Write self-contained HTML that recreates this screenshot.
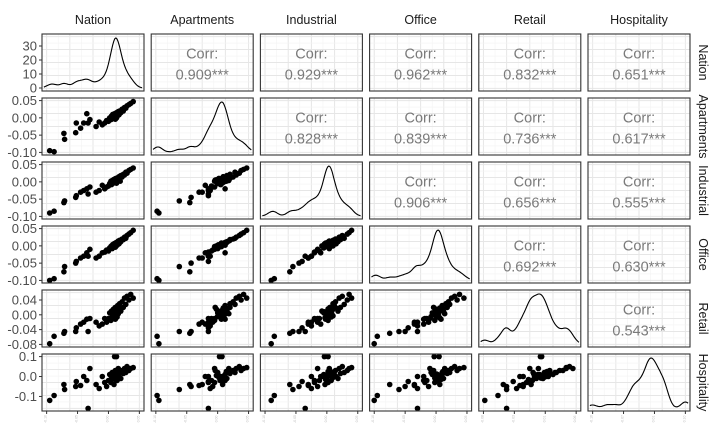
<!DOCTYPE html>
<html><head><meta charset="utf-8"><style>
body{margin:0;background:#fff;font-family:"Liberation Sans",Arial,sans-serif}
svg{display:block}
</style></head><body>
<svg id="chart" width="725" height="432" viewBox="0 0 725 432"></svg>
<script>
const variables=["Nation","Apartments","Industrial","Office","Retail","Hospitality"];
const domains=[[-0.1,0.05],[-0.1,0.05],[-0.1,0.05],[-0.1,0.05],[-0.08,0.06],[-0.16,0.1]];
const yTicks=[[0,10,20,30],[0.05,0,-0.05,-0.1],[0.05,0,-0.05,-0.1],[0.05,0,-0.05,-0.1],[0.04,0,-0.04,-0.08],[0.1,0,-0.1]];
const yTickLabels=[["0","10","20","30"],["0.05","0.00","-0.05","-0.10"],["0.05","0.00","-0.05","-0.10"],["0.05","0.00","-0.05","-0.10"],["0.04","0.00","-0.04","-0.08"],["0.1","0.0","-0.1"]];
const corrValues=[["0.909","0.929","0.962","0.832","0.651"],["0.828","0.839","0.736","0.617"],["0.906","0.656","0.555"],["0.692","0.630"],["0.543"]];
const nation=[-0.095,-0.088,-0.072,-0.071,-0.053,-0.052,-0.045,-0.04,-0.035,-0.033,-0.03,
0.0,0.002,0.004,0.005,0.006,0.007,0.008,0.009,0.01,0.01,0.011,0.011,0.012,0.012,0.013,0.013,0.014,0.015,0.016,0.017,0.018,0.02,0.022,0.024,0.026,0.028,0.03,0.033,0.036,0.04,-0.003,-0.006,-0.01,-0.015,-0.02,0.009,0.011,0.013,0.015,0.019];
const apartments=[-0.095,-0.098,-0.045,-0.062,-0.043,-0.015,-0.03,-0.015,0.012,-0.015,-0.005,
-0.01,0.0,-0.005,0.005,0.0,0.01,-0.002,0.008,0.003,0.012,0.006,-0.004,0.01,0.002,0.015,0.007,0.004,0.012,0.018,0.009,0.02,0.015,0.025,0.02,0.03,0.028,0.035,0.038,0.042,0.047,-0.008,-0.015,-0.02,-0.012,-0.025,0.001,0.006,0.0,0.009,0.014];
const industrial=[-0.09,-0.085,-0.06,-0.055,-0.045,-0.04,-0.03,-0.025,-0.02,-0.035,-0.015,
-0.012,-0.005,0.002,-0.008,0.004,0.0,0.006,-0.003,0.002,0.008,-0.002,0.005,0.0,0.01,0.003,-0.004,0.007,0.012,0.004,0.015,0.01,0.018,0.014,0.022,0.02,0.028,0.025,0.033,0.036,0.04,-0.015,-0.02,-0.01,-0.025,-0.03,0.001,-0.001,0.005,0.009,0.002];
const office=[-0.1,-0.095,-0.075,-0.06,-0.05,-0.045,-0.035,-0.03,-0.02,-0.03,-0.01,
-0.015,-0.006,-0.002,0.0,-0.008,0.004,0.0,0.006,-0.003,0.002,0.008,-0.004,0.004,0.0,0.01,0.005,0.002,0.01,0.014,0.006,0.016,0.012,0.02,0.018,0.025,0.022,0.03,0.034,0.038,0.045,-0.012,-0.018,-0.02,-0.03,-0.035,0.003,-0.002,0.001,0.007,0.011];
const retail=[-0.078,-0.058,-0.05,-0.045,-0.045,-0.035,-0.025,-0.02,-0.012,-0.045,-0.01,
-0.01,0.005,-0.015,0.01,-0.005,0.0,0.015,-0.008,0.006,0.002,-0.012,0.02,0.004,-0.003,0.012,0.008,-0.006,0.025,0.003,0.018,0.03,0.01,0.035,0.02,0.045,0.028,0.05,0.04,0.055,0.045,-0.02,-0.01,-0.025,-0.03,-0.02,0.0,0.007,-0.004,0.013,0.016];
const hospitality=[-0.12,-0.095,-0.04,-0.065,-0.05,-0.025,-0.045,0.0,-0.02,-0.16,0.04,
-0.02,0.01,-0.03,0.0,0.02,-0.01,0.005,-0.04,0.1,0.01,-0.015,0.03,0.0,-0.005,0.02,0.1,-0.02,0.01,0.04,0.0,0.02,-0.01,0.03,0.015,0.04,0.02,0.05,0.03,0.04,0.045,-0.05,-0.03,0.0,-0.06,-0.04,0.005,-0.008,0.012,-0.002,0.025];
const series=[nation,apartments,industrial,office,retail,hospitality];

const svg=document.getElementById('chart');
const NS='http://www.w3.org/2000/svg';
const X0=42,PX=109.2,W=102,Y0=34,PY=64,H=57;
function mk(tag,attrs,parent){const e=document.createElementNS(NS,tag);for(const k in attrs)e.setAttribute(k,attrs[k]);(parent||svg).appendChild(e);return e;}
function xScale(v,c){const d=domains[v],pad=(d[1]-d[0])*0.05,lo=d[0]-pad,hi=d[1]+pad;return val=>X0+c*PX+(val-lo)/(hi-lo)*W;}
function yScale(v,r){const d=domains[v],pad=(d[1]-d[0])*0.05,lo=d[0]-pad,hi=d[1]+pad;return val=>Y0+r*PY+H-(val-lo)/(hi-lo)*H;}
function kde(data,v,n){const d=domains[v],bw=(d[1]-d[0])*0.045,pad=(d[1]-d[0])*0.05;const out=[];for(let i=0;i<=n;i++){const x=d[0]-pad*0.6+(d[1]-d[0]+pad*1.2)*i/n;let s=0;for(const p of data){const z=(x-p)/bw;s+=Math.exp(-0.5*z*z);}out.push([x,s/(data.length*bw*Math.sqrt(2*Math.PI))]);}return out;}

for(let r=0;r<6;r++){for(let c=0;c<6;c++){
  const px=X0+c*PX,py=Y0+r*PY;
  const g=mk('g',{});
  
  
  mk('rect',{x:px,y:py,width:W,height:H,fill:'#fff'},g);
  for(let k=0;k<=8;k++){const gx=px+W*(0.05/1.1)+k*(W/1.1)/8;const col=k%2?'#F3F3F3':'#E6E6E6';mk('line',{x1:gx,x2:gx,y1:py,y2:py+H,stroke:col,'stroke-width':k%2?0.6:1},g);}
  for(let k=0;k<=8;k++){const gy=py+H*(0.05/1.1)+k*(H/1.1)/8;const col=k%2?'#F3F3F3':'#E6E6E6';mk('line',{x1:px,x2:px+W,y1:gy,y2:gy,stroke:col,'stroke-width':k%2?0.6:1},g);}
  if(r===c){
    const pts=kde(series[c],c,90);const xs=xScale(c,c);let mx=0;pts.forEach(p=>mx=Math.max(mx,p[1]));
    const ys=val=>py+H-3-val/mx*(H-7);
    const path=mk('path',{d:pts.map((p,i)=>(i?'L':'M')+xs(p[0]).toFixed(1)+' '+ys(p[1]).toFixed(1)).join(''),fill:'none',stroke:'#000','stroke-width':1.1},g);
    
    
  } else if(r>c){
    const xs=xScale(c,c),ys=yScale(r,r);
    for(let i=0;i<series[c].length;i++){
      const pt=mk('circle',{cx:xs(series[c][i]).toFixed(1),cy:ys(series[r][i]).toFixed(1),r:2.8,fill:'#000'},g);
      
      
    }
  } else {
    const t=mk('text',{x:px+W/2,y:py+H/2-4,'text-anchor':'middle','font-size':14.5,fill:'#7a7a7a'},g);t.textContent='Corr:';
    
    
    const t2=mk('text',{x:px+W/2,y:py+H/2+17,'text-anchor':'middle','font-size':14.5,fill:'#7a7a7a'},g);t2.textContent=corrValues[r][c-r-1]+'***';
    
    
  }
  mk('rect',{x:px,y:py,width:W,height:H,fill:'none',stroke:'#333','stroke-width':1.1},g);
}}
for(let r=0;r<6;r++){
  const py=Y0+r*PY;
  let ys;
  if(r===0){ys=val=>py+H-3-val/35*(H-8);}else ys=yScale(r,r);
  yTicks[r].forEach((v,i)=>{const y=ys(v);mk('line',{x1:X0-3,x2:X0,y1:y,y2:y,stroke:'#333'});
    const t=mk('text',{x:X0-5,y:y+4.5,'text-anchor':'end','font-size':13,fill:'#4d4d4d'});t.textContent=yTickLabels[r][i];
    
    });
}
for(let c=0;c<6;c++){const xs=xScale(c,c),d=domains[c];
  for(let k=0;k<4;k++){const v=d[0]+(d[1]-d[0])*k/3;const x=xs(v);mk('line',{x1:x,x2:x,y1:Y0+5*PY+H,y2:Y0+5*PY+H+3,stroke:'#333'});
    const t=mk('text',{x:x,y:Y0+5*PY+H+8,'font-size':3.5,fill:'#bbb','text-anchor':'middle',transform:`rotate(-90 ${x} ${Y0+5*PY+H+8})`});t.textContent=v.toFixed(2);
    
    }}
for(let i=0;i<6;i++){
  const t=mk('text',{x:X0+i*PX+W/2,y:24,'text-anchor':'middle','font-size':12.5,fill:'#1a1a1a'});t.textContent=variables[i];
  
  
  const yy=Y0+i*PY+H/2,xx=699;
  const t2=mk('text',{x:xx,y:yy,'text-anchor':'middle','font-size':12.5,fill:'#1a1a1a',transform:`rotate(90 ${xx} ${yy})`});t2.textContent=variables[i];
  
  
}
</script>
</body></html>
